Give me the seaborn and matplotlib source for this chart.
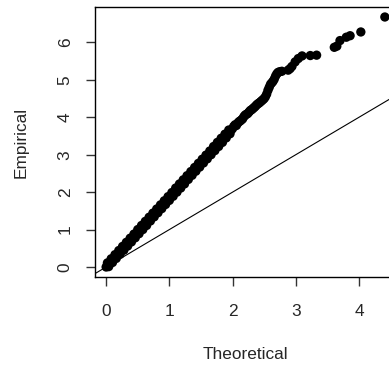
import matplotlib
matplotlib.use("Agg")
import matplotlib.pyplot as plt
import seaborn as sns
import pandas as pd

# Data (dense band + sparse upper tail)
theoretical = [
    0.00, 0.02, 0.04, 0.06, 0.08, 0.10, 0.12, 0.14, 0.16, 0.18,
    0.20, 0.22, 0.24, 0.26, 0.28, 0.30, 0.32, 0.34, 0.36, 0.38,
    0.40, 0.42, 0.44, 0.46, 0.48, 0.50, 0.52, 0.54, 0.56, 0.58,
    0.60, 0.62, 0.64, 0.66, 0.68, 0.70, 0.72, 0.74, 0.76, 0.78,
    0.80, 0.82, 0.84, 0.86, 0.88, 0.90, 0.92, 0.94, 0.96, 0.98,
    1.00, 1.02, 1.04, 1.06, 1.08, 1.10, 1.12, 1.14, 1.16, 1.18,
    1.20, 1.22, 1.24, 1.26, 1.28, 1.30, 1.32, 1.34, 1.36, 1.38,
    1.40, 1.42, 1.44, 1.46, 1.48, 1.50, 1.52, 1.54, 1.56, 1.58,
    1.60, 1.62, 1.64, 1.66, 1.68, 1.70, 1.72, 1.74, 1.76, 1.78,
    1.80, 1.82, 1.84, 1.86, 1.88, 1.90, 1.92, 1.94, 1.96, 1.98,
    2.00, 2.02, 2.04, 2.06, 2.08, 2.10, 2.12, 2.14, 2.16, 2.18,
    2.20, 2.22, 2.24, 2.26, 2.28, 2.30, 2.32, 2.34, 2.36, 2.38,
    2.40, 2.42, 2.44, 2.46, 2.48, 2.50, 2.52, 2.54, 2.56, 2.58,
    2.60, 2.62, 2.64, 2.66, 2.68, 2.70, 2.72, 2.75, 2.78, 2.88,
    2.91, 2.94, 2.99, 3.04, 3.10, 3.23, 3.33, 3.61, 3.65, 3.70,
    3.80, 3.86, 4.03, 4.41,
]
empirical = [
    0.00, 0.11, 0.01, 0.11, 0.22, 0.12, 0.22, 0.33, 0.23, 0.33,
    0.44, 0.34, 0.44, 0.55, 0.45, 0.56, 0.66, 0.56, 0.67, 0.77,
    0.67, 0.78, 0.88, 0.78, 0.89, 1.00, 0.89, 1.00, 1.11, 1.00,
    1.11, 1.22, 1.11, 1.22, 1.33, 1.23, 1.33, 1.44, 1.34, 1.44,
    1.55, 1.45, 1.55, 1.66, 1.56, 1.67, 1.77, 1.67, 1.78, 1.88,
    1.78, 1.89, 1.99, 1.89, 2.00, 2.11, 2.00, 2.11, 2.22, 2.11,
    2.22, 2.33, 2.22, 2.33, 2.44, 2.34, 2.44, 2.55, 2.45, 2.55,
    2.66, 2.56, 2.66, 2.77, 2.67, 2.78, 2.88, 2.78, 2.89, 2.99,
    2.89, 3.00, 3.10, 3.00, 3.11, 3.22, 3.11, 3.22, 3.33, 3.22,
    3.33, 3.44, 3.33, 3.44, 3.55, 3.45, 3.55, 3.66, 3.56, 3.66,
    3.70, 3.76, 3.80, 3.78, 3.84, 3.88, 3.90, 3.93, 3.96, 4.02,
    4.06, 4.08, 4.10, 4.14, 4.18, 4.20, 4.23, 4.26, 4.29, 4.33,
    4.36, 4.38, 4.41, 4.44, 4.47, 4.50, 4.55, 4.62, 4.72, 4.80,
    4.88, 4.92, 4.96, 5.02, 5.10, 5.16, 5.20, 5.22, 5.23, 5.26,
    5.30, 5.36, 5.48, 5.57, 5.64, 5.65, 5.66, 5.87, 5.90, 6.05,
    6.14, 6.18, 6.28, 6.68,
]
x_ticks = [0, 1, 2, 3, 4]
y_ticks = [0, 1, 2, 3, 4, 5, 6]
x_label = "Theoretical"
y_label = "Empirical"

sns.set_style("white")
plt.rcParams["font.family"] = ["Liberation Sans", "DejaVu Sans"]
FS = 12.4

df = pd.DataFrame({"Theoretical": theoretical, "Empirical": empirical})

W, H = 389, 371
fig = plt.figure(figsize=(W / 100, H / 100), dpi=100)
ax = fig.add_axes([95 / W, 94 / H, 301 / W, 270 / H])

sns.scatterplot(data=df, x="Theoretical", y="Empirical", ax=ax,
                color="black", s=45, linewidth=0, edgecolor="none", zorder=3)
ax.axline((0, 0), slope=1, color="black", linewidth=0.8, zorder=2)

xr = max(theoretical) - min(theoretical)
yr = max(empirical) - min(empirical)
ax.set_xlim(min(theoretical) - 0.04 * xr, max(theoretical) + 0.04 * xr)
ax.set_ylim(min(empirical) - 0.04 * yr, max(empirical) + 0.04 * yr)

ax.set_xticks(x_ticks)
ax.set_xticklabels([str(t) for t in x_ticks], fontsize=FS)
ax.set_yticks(y_ticks)
ax.set_yticklabels([str(t) for t in y_ticks], fontsize=FS, rotation=90, va="center")
ax.tick_params(axis="both", direction="out", length=6.5, width=1.0, color="#333333",
               bottom=True, left=True)
ax.tick_params(axis="x", pad=13)
ax.tick_params(axis="y", pad=9.5)

ax.set_xlabel(x_label, fontsize=FS, labelpad=20)
ax.set_ylabel(y_label, fontsize=FS, labelpad=21)

for sp in ax.spines.values():
    sp.set_visible(True)
    sp.set_color("black")
    sp.set_linewidth(1.0)

fig.savefig("out.png", dpi=100)
